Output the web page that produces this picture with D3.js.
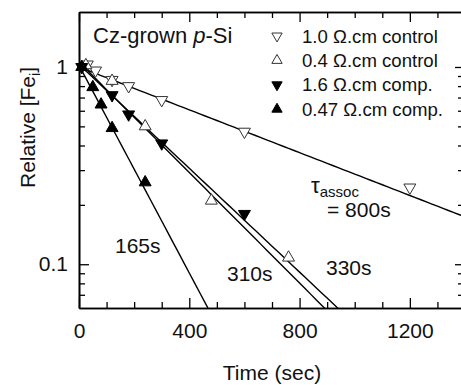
<!DOCTYPE html>
<html>
<head>
<meta charset="utf-8">
<script src="https://cdn.jsdelivr.net/npm/d3@7"></script>
<style>
  body { margin: 0; background: #fff; }
  text { font-family: "Liberation Sans", Arial, sans-serif; fill: #111; }
</style>
</head>
<body>
<svg id="chart" width="461" height="385"></svg>
<script>
// measured points (time in sec, relative [Fe_i])
var ctrl10T = [30, 60, 120, 180, 300, 600, 1200];
var ctrl10V = [1.03, 0.96, 0.86, 0.80, 0.68, 0.47, 0.245];
var ctrl04T = [25, 120, 240, 480, 760];
var ctrl04V = [1.02, 0.85, 0.50, 0.21, 0.108];
var comp16T = [10, 120, 180, 300, 600];
var comp16V = [1.0, 0.72, 0.575, 0.41, 0.18];
var comp047T = [10, 50, 80, 120, 240];
var comp047V = [1.0, 0.79, 0.645, 0.49, 0.26];

// exponential fits, v = amp * exp(-t / tau)
var fitTau = [800, 330, 310, 165];
var fitAmp = [1.0, 1.03, 1.06, 1.02];

var seriesNames = ["1.0 \u03A9.cm control", "0.4 \u03A9.cm control", "1.6 \u03A9.cm comp.", "0.47 \u03A9.cm comp."];
var xTicks = [0, 400, 800, 1200];
var yTicks = [0.1, 1];
var yMinor = [0.07, 0.08, 0.09, 0.2, 0.3, 0.4, 0.5, 0.6, 0.7, 0.8, 0.9];

// "top" is taken by window.top, so use plot* names
var plotL = 79, plotR = 465, plotT = 12, plotB = 308;
var svg = d3.select("#chart");
var x = d3.scaleLinear().domain([0, 1400]).range([plotL, plotR]);
var y = d3.scaleLog().domain([0.06, 1.9]).range([plotB, plotT]);

var xMinor = d3.range(0, 1401, 100).filter(d => xTicks.indexOf(d) < 0);

function styleAxis(g) {
    g.select(".domain").attr("stroke", "#000").attr("stroke-width", 1.6);
    g.selectAll(".tick line").attr("stroke", "#000").attr("stroke-width", 1.3);
    g.selectAll("text").attr("font-size", 21).attr("fill", "#111")
        .attr("font-family", "Liberation Sans, Arial, sans-serif");
}

// bottom
svg.append("g").attr("transform", `translate(0,${plotB})`)
    .call(d3.axisBottom(x).tickValues(xMinor).tickSizeInner(-6).tickSizeOuter(0).tickFormat(""))
    .call(styleAxis);
svg.append("g").attr("transform", `translate(0,${plotB})`)
    .call(d3.axisBottom(x).tickValues(xTicks).tickSizeInner(-10).tickSizeOuter(0).tickPadding(15)
        .tickFormat(d3.format("d")))
    .call(styleAxis);
// top
svg.append("g").attr("transform", `translate(0,${plotT})`)
    .call(d3.axisTop(x).tickValues(xMinor).tickSizeInner(-6).tickSizeOuter(0).tickFormat(""))
    .call(styleAxis);
svg.append("g").attr("transform", `translate(0,${plotT})`)
    .call(d3.axisTop(x).tickValues(xTicks).tickSizeInner(-10).tickSizeOuter(0).tickFormat(""))
    .call(styleAxis);
// left
svg.append("g").attr("transform", `translate(${plotL},0)`)
    .call(d3.axisLeft(y).tickValues(yMinor).tickSizeInner(-6).tickSizeOuter(0).tickFormat(""))
    .call(styleAxis);
svg.append("g").attr("transform", `translate(${plotL},0)`)
    .call(d3.axisLeft(y).tickValues(yTicks).tickSizeInner(-10).tickSizeOuter(0).tickPadding(11)
        .tickFormat(d => d === 1 ? "1" : "0.1"))
    .call(styleAxis);
// right
svg.append("g").attr("transform", `translate(${plotR},0)`)
    .call(d3.axisRight(y).tickValues(yMinor).tickSizeInner(-7).tickSizeOuter(0).tickFormat(""))
    .call(styleAxis);
svg.append("g").attr("transform", `translate(${plotR},0)`)
    .call(d3.axisRight(y).tickValues(yTicks).tickSizeInner(-10).tickSizeOuter(0).tickFormat(""))
    .call(styleAxis);

// fit lines, clipped to the frame
svg.append("clipPath").attr("id", "plotclip")
    .append("rect").attr("x", plotL).attr("y", plotT).attr("width", plotR - plotL).attr("height", plotB - plotT);
var fitG = svg.append("g").attr("clip-path", "url(#plotclip)");
var line = d3.line().x(d => x(d[0])).y(d => y(d[1]));
fitTau.forEach((tau, i) => {
    let pts = d3.range(0, 1401, 20).map(t => [t, fitAmp[i] * Math.exp(-t / tau)])
        .filter(p => p[1] > 0.03);
    fitG.append("path").datum(pts)
        .attr("d", line)
        .attr("fill", "none")
        .attr("stroke", "#000")
        .attr("stroke-width", 1.4);
});

// markers
var markerSize = 62;
var series = [
    { t: ctrl10T, v: ctrl10V, down: true, filled: false },
    { t: ctrl04T, v: ctrl04V, down: false, filled: false },
    { t: comp16T, v: comp16V, down: true, filled: true },
    { t: comp047T, v: comp047V, down: false, filled: true }
];
var tri = d3.symbol().type(d3.symbolTriangle);

series.forEach(s => {
    let pts = s.t.map((t, i) => [t, s.v[i]]);
    svg.append("g").selectAll("path")
        .data(pts)
        .join("path")
        .attr("d", tri.size(markerSize)())
        .attr("transform", d => `translate(${x(d[0])},${y(d[1])})` + (s.down ? " rotate(180)" : ""))
        .attr("fill", s.filled ? "#000" : "#fff")
        .attr("stroke", s.filled ? "#000" : "#333")
        .attr("stroke-width", 1);
});

// legend
var legend = svg.append("g");
series.forEach((s, i) => {
    let ly = 36 + i * 24.4;
    legend.append("path")
        .attr("d", tri.size(46)())
        .attr("transform", `translate(277,${ly})` + (s.down ? " rotate(180)" : ""))
        .attr("fill", s.filled ? "#000" : "#fff")
        .attr("stroke", s.filled ? "#000" : "#333")
        .attr("stroke-width", 1);
    legend.append("text")
        .attr("x", 302).attr("y", ly + 6.5)
        .attr("font-size", 18.6)
        .text(seriesNames[i]);
});

// annotations
var title = svg.append("text").attr("x", 93).attr("y", 43).attr("font-size", 22);
title.append("tspan").text("Cz-grown ");
title.append("tspan").attr("font-style", "italic").text("p");
title.append("tspan").text("-Si");

svg.append("text").attr("x", 115).attr("y", 253).attr("font-size", 21).text("165s");
svg.append("text").attr("x", 227).attr("y", 281).attr("font-size", 21).text("310s");
svg.append("text").attr("x", 326).attr("y", 275).attr("font-size", 21).text("330s");

var tauText = svg.append("text").attr("x", 311).attr("y", 193).attr("font-size", 22);
tauText.append("tspan").text("\u03C4");
tauText.append("tspan").attr("font-size", 15).attr("dy", 4).text("assoc");
svg.append("text").attr("x", 327).attr("y", 217).attr("font-size", 21).text("= 800s");

// axis titles
svg.append("text").attr("x", 272).attr("y", 380).attr("font-size", 21)
    .attr("text-anchor", "middle").text("Time (sec)");
var yt = svg.append("text").attr("transform", "translate(35,188) rotate(-90)").attr("font-size", 21);
yt.append("tspan").text("Relative [Fe");
yt.append("tspan").attr("font-size", 14).attr("dy", 5).text("i");
yt.append("tspan").attr("dy", -5).text("]");
</script>
</body>
</html>
